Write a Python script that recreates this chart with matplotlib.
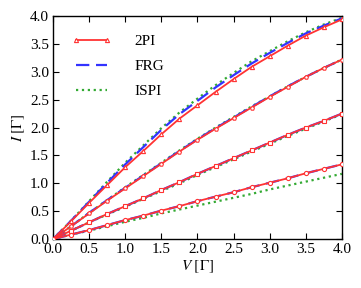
import numpy as np
import matplotlib
matplotlib.use('Agg')
import matplotlib.pyplot as plt

plt.rcParams['font.family'] = ['Liberation Serif', 'DejaVu Serif']
plt.rcParams['mathtext.fontset'] = 'stix'
plt.rcParams['font.size'] = 11

# bias voltage grid (markers every 0.25)
V = [0.0, 0.25, 0.5, 0.75, 1.0, 1.25, 1.5, 1.75, 2.0,
     2.25, 2.5, 2.75, 3.0, 3.25, 3.5, 3.75, 4.0]

# 2PI curves (four parameter sets, top to bottom)
pi2_a = [0, 0.32, 0.65, 0.97, 1.29, 1.58, 1.88, 2.16, 2.40, 2.64, 2.87, 3.09, 3.28, 3.47, 3.65, 3.80, 3.94]
pi2_b = [0, 0.23, 0.46, 0.69, 0.91, 1.13, 1.35, 1.57, 1.78, 1.98, 2.17, 2.36, 2.55, 2.73, 2.91, 3.07, 3.22]
pi2_c = [0, 0.15, 0.30, 0.45, 0.59, 0.73, 0.88, 1.02, 1.17, 1.31, 1.45, 1.59, 1.73, 1.87, 2.00, 2.12, 2.25]
pi2_d = [0, 0.08, 0.16, 0.25, 0.34, 0.42, 0.51, 0.59, 0.68, 0.76, 0.84, 0.93, 1.01, 1.09, 1.18, 1.26, 1.34]

# FRG curves
frg_a = [0, 0.33, 0.67, 1.01, 1.34, 1.65, 1.96, 2.24, 2.48, 2.72, 2.94, 3.15, 3.34, 3.52, 3.69, 3.83, 3.96]
frg_b = [0, 0.23, 0.47, 0.70, 0.92, 1.14, 1.36, 1.58, 1.79, 1.99, 2.18, 2.37, 2.56, 2.74, 2.91, 3.07, 3.22]
frg_c = [0, 0.15, 0.30, 0.45, 0.59, 0.73, 0.88, 1.02, 1.17, 1.31, 1.45, 1.59, 1.73, 1.87, 2.00, 2.12, 2.25]
frg_d = [0, 0.08, 0.16, 0.25, 0.34, 0.42, 0.51, 0.59, 0.68, 0.76, 0.84, 0.93, 1.01, 1.09, 1.18, 1.26, 1.34]

# ISPI curves
ispi_a = [0, 0.33, 0.68, 1.03, 1.37, 1.68, 1.99, 2.27, 2.52, 2.76, 2.98, 3.19, 3.37, 3.55, 3.71, 3.85, 3.97]
ispi_b = [0, 0.23, 0.47, 0.70, 0.93, 1.15, 1.37, 1.59, 1.80, 2.00, 2.19, 2.38, 2.56, 2.74, 2.91, 3.07, 3.22]
ispi_c = [0, 0.15, 0.30, 0.44, 0.58, 0.72, 0.86, 1.00, 1.15, 1.29, 1.43, 1.57, 1.71, 1.85, 1.98, 2.11, 2.24]
ispi_d = [0, 0.08, 0.15, 0.23, 0.31, 0.38, 0.46, 0.53, 0.60, 0.67, 0.74, 0.81, 0.89, 0.96, 1.03, 1.10, 1.17]

red = '#ff3333'
blue = '#3333ff'
green = '#33aa33'

fig = plt.figure(figsize=(3.61, 2.88), dpi=100)
ax = fig.add_axes([0.147, 0.170, 0.800, 0.774])

markers = ['^', 'p', 's', 'o']
for i, (p, f, s) in enumerate(zip([pi2_a, pi2_b, pi2_c, pi2_d],
                                  [frg_a, frg_b, frg_c, frg_d],
                                  [ispi_a, ispi_b, ispi_c, ispi_d])):
    ax.plot(V, s, ':', color=green, lw=1.6, label='ISPI' if i == 0 else None, zorder=2)
    ax.plot(V, f, '--', color=blue, lw=1.6, dashes=(6, 3), label='FRG' if i == 0 else None, zorder=3)
    ax.plot(V, p, '-', color=red, lw=1.3, marker=markers[i], ms=3, mfc='white',
            mec=red, mew=0.8, label='2PI' if i == 0 else None, zorder=4)

ax.set_xlim(0, 4)
ax.set_ylim(0, 4)
ax.set_xticks(np.arange(0, 4.01, 0.5))
ax.set_yticks(np.arange(0, 4.01, 0.5))
ax.tick_params(direction='in', top=True, right=True, length=4, width=0.8, pad=3)
for sp in ax.spines.values():
    sp.set_linewidth(1.0)
ax.set_xlabel(r'$V\ [\Gamma]$', labelpad=2)
ax.set_ylabel(r'$I\ [\Gamma]$', labelpad=2)

h, l = ax.get_legend_handles_labels()
order = [2, 1, 0]
ax.legend([h[k] for k in order], [l[k] for k in order], loc='upper left', frameon=False,
          numpoints=2, handlelength=2.6, borderaxespad=0.8, labelspacing=0.75, handletextpad=1.5)

plt.savefig('out.png', dpi=100)
